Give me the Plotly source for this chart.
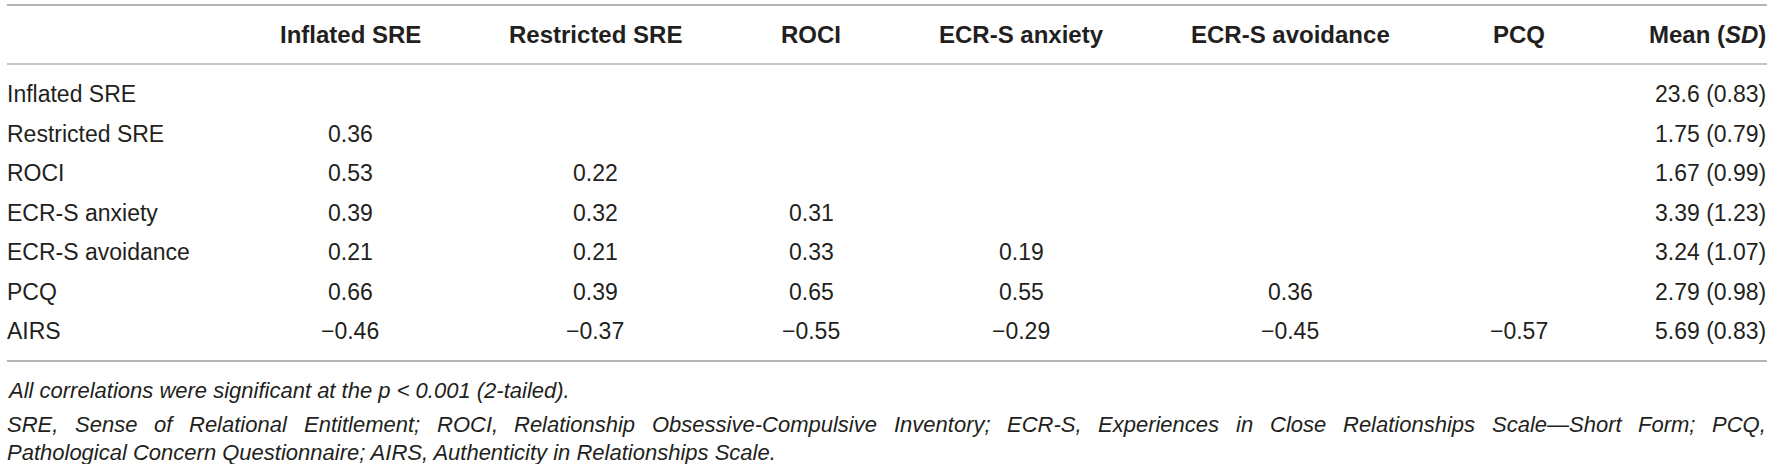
import plotly.graph_objects as go

# table contents
row_labels = ["Inflated SRE", "Restricted SRE", "ROCI", "ECR-S anxiety",
              "ECR-S avoidance", "PCQ", "AIRS"]
col_labels = ["Inflated SRE", "Restricted SRE", "ROCI", "ECR-S anxiety",
              "ECR-S avoidance", "PCQ"]

# lower triangle of the correlation matrix, one list per column
r_inflated = [None, 0.36, 0.53, 0.39, 0.21, 0.66, -0.46]
r_restricted = [None, None, 0.22, 0.32, 0.21, 0.39, -0.37]
r_roci = [None, None, None, 0.31, 0.33, 0.65, -0.55]
r_anxiety = [None, None, None, None, 0.19, 0.55, -0.29]
r_avoidance = [None, None, None, None, None, 0.36, -0.45]
r_pcq = [None, None, None, None, None, None, -0.57]

means = [23.6, 1.75, 1.67, 3.39, 3.24, 2.79, 5.69]
sds = [0.83, 0.79, 0.99, 1.23, 1.07, 0.98, 0.83]

note_1 = "All correlations were significant at the p &lt; 0.001 (2-tailed)."
note_2 = ("SRE, Sense of Relational Entitlement; ROCI, Relationship "
          "Obsessive-Compulsive Inventory; ECR-S, Experiences in Close "
          "Relationships Scale\u2014Short Form; PCQ,")
note_3 = ("Pathological Concern Questionnaire; AIRS, Authenticity in "
          "Relationships Scale.")

W, H = 1772, 464
FONT = "Liberation Sans, Arial, sans-serif"
INK = "#231f20"
BODY = 23
HEAD = 24
NOTE = 22
col_x = [350, 595, 811, 1021, 1290, 1519]
left_x = 7
right_x = 1766
header_y = 34
row_y = [94 + 39.5 * i for i in range(len(row_labels))]
note_y = [390, 424, 452]

# Arial / Liberation Sans advance widths (per 1000 em), for justifying note 2
ARIAL = {" ": 278, ",": 278, ";": 278, ".": 278, "-": 333, "\u2014": 1000,
         "A": 667, "C": 722, "E": 667, "F": 611, "I": 278, "O": 778,
         "P": 667, "Q": 778, "R": 722, "S": 667,
         "a": 556, "b": 556, "c": 500, "d": 556, "e": 556, "f": 278,
         "g": 556, "h": 556, "i": 222, "l": 222, "m": 833, "n": 556,
         "o": 556, "p": 556, "r": 333, "s": 500, "t": 278, "u": 556,
         "v": 500, "x": 500, "y": 500}


def text_width(s, size):
    return sum(ARIAL.get(ch, 556) for ch in s) * size / 1000


def fmt(v):
    if v is None:
        return ""
    return f"{v:.2f}".replace("-", "\u2212")


def label(x, y, text, anchor, size, ital=False):
    fig.add_annotation(
        x=x, y=y, xref="x", yref="y", text=f"<i>{text}</i>" if ital else text,
        showarrow=False, xanchor=anchor, yanchor="middle",
        borderpad=0, borderwidth=0,
        font=dict(family=FONT, size=size, color=INK))


fig = go.Figure()
fig.add_trace(go.Scatter(x=[0, W], y=[0, H], mode="markers",
                         marker=dict(opacity=0), hoverinfo="skip"))

# header row
for cx, c in zip(col_x, col_labels):
    label(cx, header_y, f"<b>{c}</b>", "center", HEAD)
label(right_x, header_y, "<b>Mean (<i>SD</i>)</b>", "right", HEAD)

# body rows
columns = [r_inflated, r_restricted, r_roci, r_anxiety, r_avoidance, r_pcq]
for i, name in enumerate(row_labels):
    label(left_x, row_y[i], name, "left", BODY)
    for cx, col in zip(col_x, columns):
        if col[i] is not None:
            label(cx, row_y[i], fmt(col[i]), "center", BODY)
    label(right_x, row_y[i], f"{means[i]} ({sds[i]:.2f})", "right", BODY)

# footnotes; the middle one is justified across the full width
label(left_x, note_y[0], note_1, "left", NOTE, ital=True)
words = note_2.split(" ")
natural = sum(text_width(w, NOTE) for w in words)
gap = (right_x - left_x - natural) / (len(words) - 1)
x = left_x
for w in words:
    label(x, note_y[1], w, "left", NOTE, ital=True)
    x += text_width(w, NOTE) + gap
label(left_x, note_y[2], note_3, "left", NOTE, ital=True)

# horizontal rules
fig.add_shape(type="line", x0=left_x, x1=right_x + 1, y0=5, y1=5,
              line=dict(color="#9a9a9a", width=1.5))
fig.add_shape(type="line", x0=left_x, x1=right_x + 1, y0=64, y1=64,
              line=dict(color="#c6c6c6", width=2))
fig.add_shape(type="line", x0=left_x, x1=right_x + 1, y0=361, y1=361,
              line=dict(color="#b4b4b4", width=2))

fig.update_layout(
    width=W, height=H,
    margin=dict(l=0, r=0, t=0, b=0),
    paper_bgcolor="white", plot_bgcolor="white",
    showlegend=False,
    xaxis=dict(range=[0, W], visible=False, fixedrange=True),
    yaxis=dict(range=[H, 0], visible=False, fixedrange=True),
)

# drop the default page margin so the figure fills the window exactly
fig.write_html("out.html", config={"displayModeBar": False},
               post_script="document.body.style.margin='0';"
                           "document.body.style.overflow='hidden';")
